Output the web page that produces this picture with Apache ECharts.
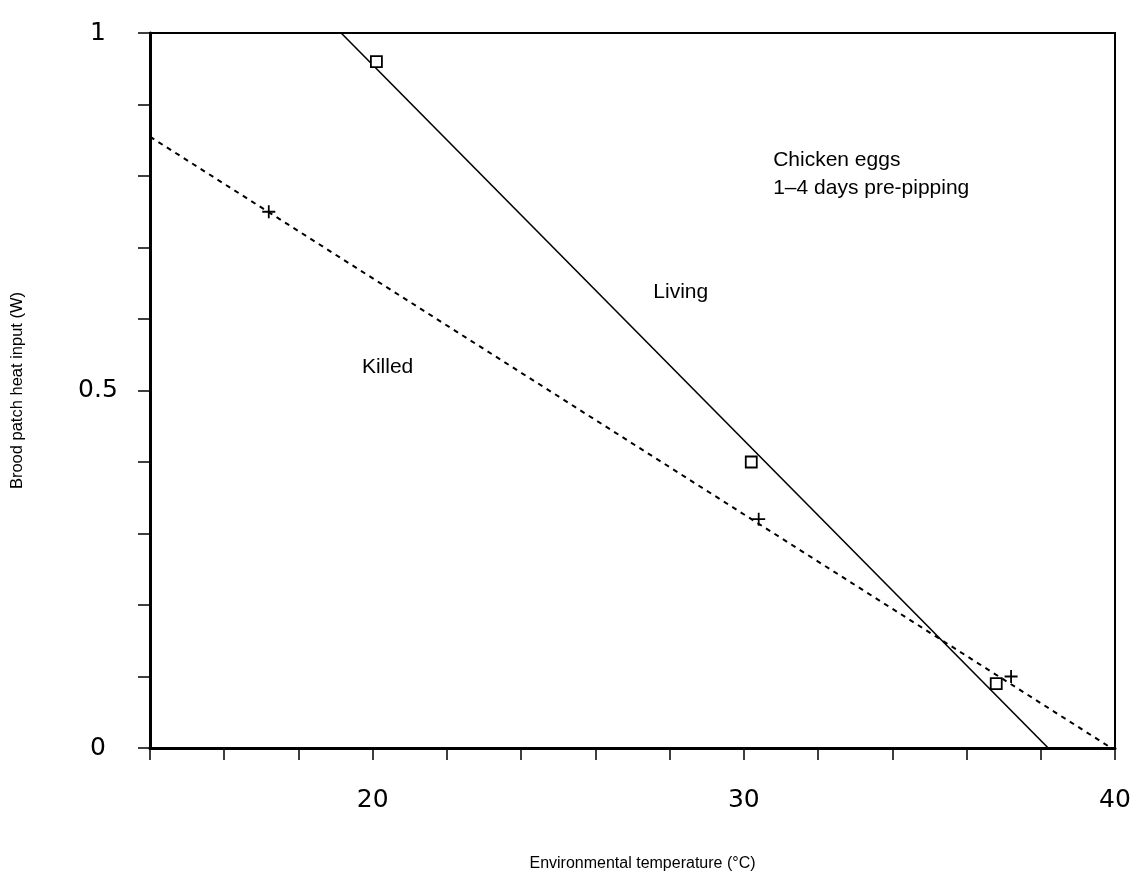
<!DOCTYPE html>
<html><head><meta charset="utf-8">
<script src="https://cdn.jsdelivr.net/npm/echarts@6/dist/echarts.min.js"></script>
<style>html,body{margin:0;padding:0;background:#fff}#c{width:1139px;height:885px}</style>
</head><body><div id="c"></div>
<script>
const livingPoints = [[20.1, 0.96], [30.2, 0.40], [36.8, 0.09]];
const killedPoints = [[17.2, 0.75], [30.4, 0.32], [37.2, 0.10]];
const livingFit = [[19.15, 1.0], [38.2, 0.0]];
const killedFit = [[14.0, 0.855], [39.9, 0.0]];
const xLabelsShown = [20, 30, 40];
const yLabelsShown = [0, 0.5, 1];
const notes = [
  {text: 'Chicken eggs', x: 30.79, y: 0.822},
  {text: '1\u20134 days pre-pipping', x: 30.79, y: 0.783},
  {text: 'Living', x: 27.56, y: 0.638},
  {text: 'Killed', x: 19.71, y: 0.533}
];

const chart = echarts.init(document.getElementById('c'));
const fontF = '"Liberation Sans", Arial, sans-serif';
chart.setOption({
  animation: false,
  backgroundColor: '#fff',
  grid: {left: 150, right: 24, top: 33, bottom: 137, show: true, borderColor: '#000', borderWidth: 2, backgroundColor: 'transparent'},
  xAxis: {
    type: 'value', min: 14, max: 40, interval: 2,
    name: 'Environmental temperature (\u00B0C)', nameLocation: 'middle', nameGap: 108,
    nameTextStyle: {fontFamily: fontF, fontSize: 16, color: '#000', padding: [0, 0, 0, 20]},
    axisLine: {lineStyle: {color: '#000', width: 3}},
    axisTick: {show: true, length: 12, lineStyle: {color: '#000', width: 1.5}},
    splitLine: {show: false},
    axisLabel: {
      fontFamily: '"DejaVu Sans", sans-serif', fontSize: 25, color: '#000', margin: 40,
      formatter: v => xLabelsShown.includes(v) ? String(v) : ''
    }
  },
  yAxis: {
    type: 'value', min: 0, max: 1, interval: 0.1,
    name: 'Brood patch heat input (W)', nameLocation: 'middle', nameGap: 124,
    nameTextStyle: {fontFamily: fontF, fontSize: 16.5, color: '#000'},
    axisLine: {lineStyle: {color: '#000', width: 3}},
    axisTick: {show: true, length: 12, lineStyle: {color: '#000', width: 1.5}},
    splitLine: {show: false},
    axisLabel: {
      fontFamily: '"DejaVu Sans", sans-serif', fontSize: 25, color: '#000', margin: 52, align: 'center',
      formatter: v => {
        const r = Math.round(v * 10) / 10;
        return yLabelsShown.includes(r) ? String(r) : '';
      }
    }
  },
  series: [
    {type: 'line', data: livingFit, symbol: 'none', lineStyle: {color: '#000', width: 1.6}, z: 2},
    {type: 'line', data: killedFit, symbol: 'none', lineStyle: {color: '#000', width: 2, type: [5, 5]}, z: 2},
    {type: 'scatter', data: livingPoints, symbol: 'rect', symbolSize: 11,
      itemStyle: {color: '#fff', borderColor: '#000', borderWidth: 1.8, opacity: 1}, z: 3},
    {type: 'scatter', data: killedPoints, symbol: 'path://M0,5 L10,5 M5,0 L5,10', symbolSize: 13,
      itemStyle: {color: 'none', borderColor: '#000', borderWidth: 1.8, opacity: 1}, z: 3},
    {type: 'scatter', data: notes.map(n => [n.x, n.y]), symbolSize: 0, silent: true,
      itemStyle: {opacity: 1},
      label: {show: true, position: 'right', distance: 0, fontFamily: fontF, fontSize: 21, color: '#000',
        formatter: p => notes[p.dataIndex].text}}
  ]
});
</script></body></html>
